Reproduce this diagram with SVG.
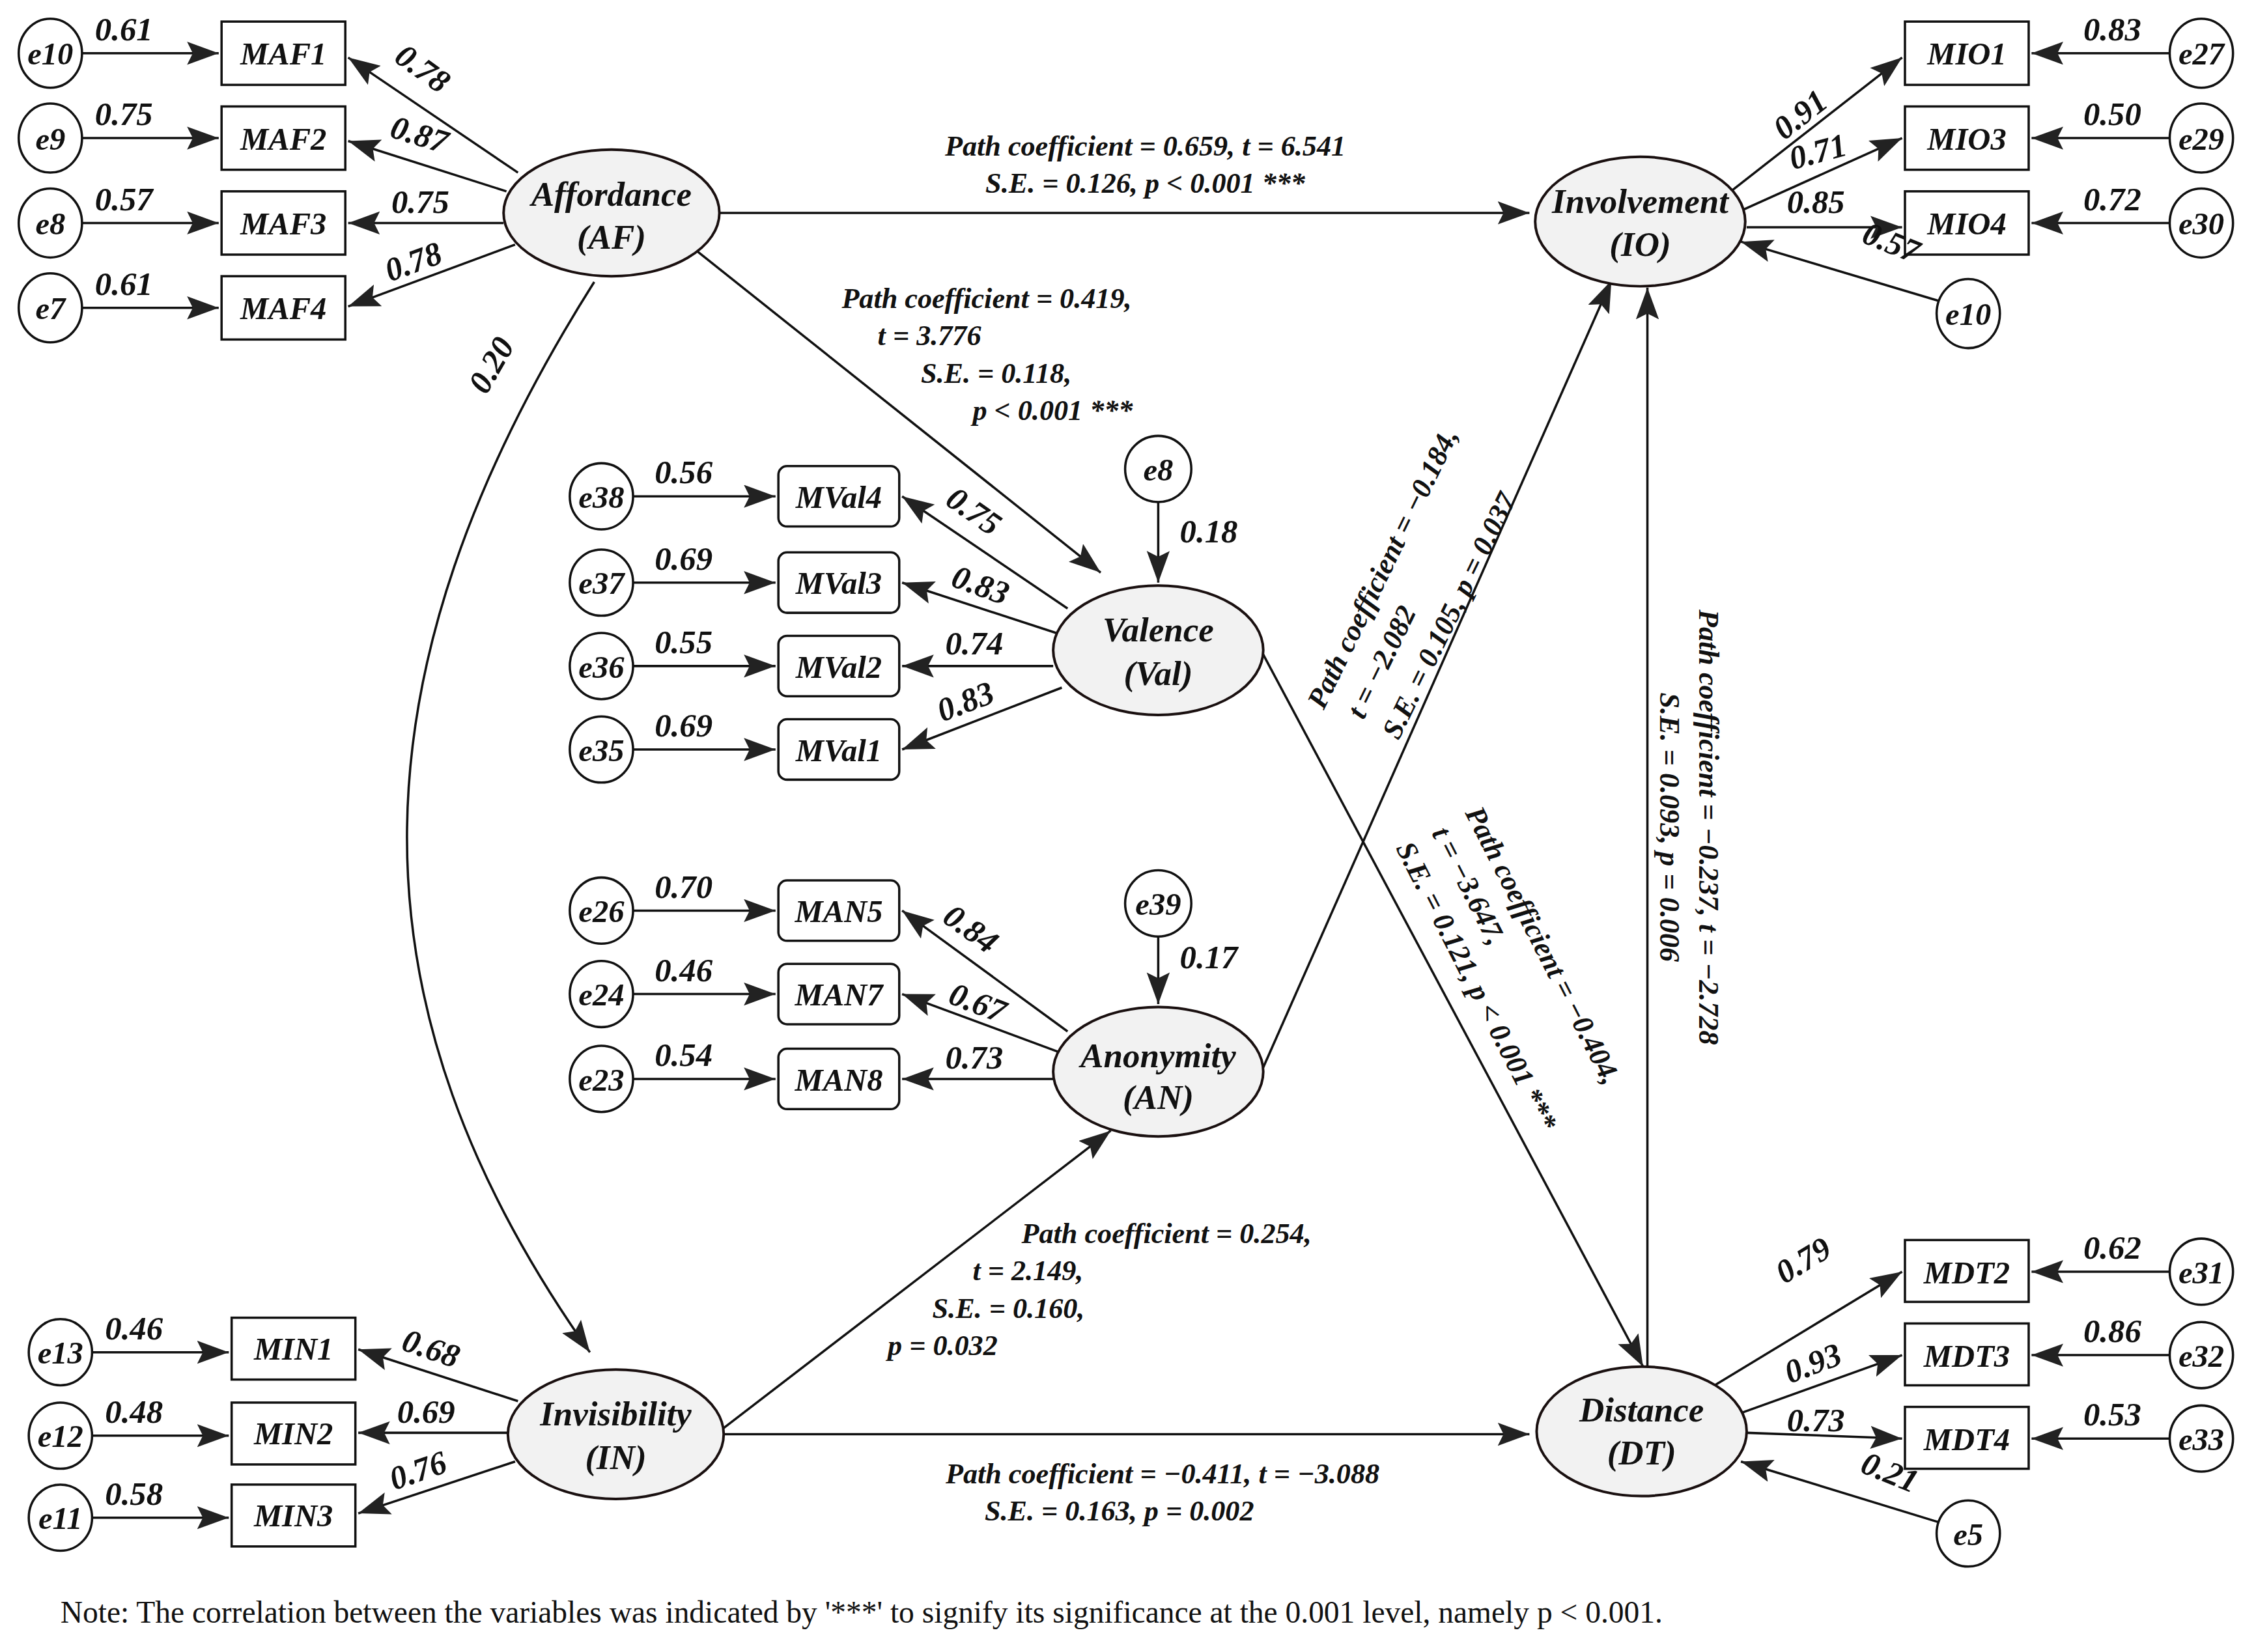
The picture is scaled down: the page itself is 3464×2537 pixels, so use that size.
<svg xmlns="http://www.w3.org/2000/svg" width="3464" height="2537" viewBox="0 0 3464 2537">
<defs>
<marker id="ar" markerUnits="userSpaceOnUse" markerWidth="24" markerHeight="18" refX="22" refY="8" orient="auto"><path d="M0,0 L22,8 L0,16 L4,8 z" fill="#222"/></marker>
<style>
.t{font-family:"Liberation Serif","Times New Roman",serif;font-weight:bold;font-style:italic;fill:#111}
.v{font-size:23px}
.n{font-size:22px;text-anchor:middle}
.L{font-size:24px;text-anchor:middle}
.p{font-size:20px}
.pm{font-size:20px;text-anchor:middle}
.e{fill:#fff;stroke:#111;stroke-width:1.6}
.lat{fill:#f2f2f2;stroke:#1a1010;stroke-width:1.8}
.bx{fill:#fff;stroke:#111;stroke-width:1.6}
.c line,.c path{stroke:#111;stroke-width:1.6;fill:none;marker-end:url(#ar)}
.note{font-family:"Liberation Serif","Times New Roman",serif;font-size:21.5px;fill:#111}
</style>
</defs>
<rect width="3464" height="2537" fill="#fff"/>
<g transform="scale(2.2092)">
<g class="c" id="connectors">
<line x1="57" y1="37" x2="152" y2="37"/><line x1="57" y1="96" x2="152" y2="96"/><line x1="57" y1="155" x2="152" y2="155"/><line x1="57" y1="214" x2="152" y2="214"/>
<line x1="360" y1="120" x2="242" y2="40"/><line x1="352" y1="133" x2="242" y2="98"/><line x1="350" y1="155" x2="242" y2="155"/><line x1="358" y1="170" x2="242" y2="213"/>
<line x1="1508" y1="37" x2="1412" y2="37"/><line x1="1508" y1="96" x2="1412" y2="96"/><line x1="1508" y1="155" x2="1412" y2="155"/>
<line x1="1203" y1="133" x2="1322" y2="40"/><line x1="1211" y1="146" x2="1322" y2="96"/><line x1="1214" y1="158" x2="1322" y2="158"/>
<line x1="1347" y1="209" x2="1210" y2="168"/>
<line x1="440" y1="345" x2="539" y2="345"/><line x1="440" y1="405" x2="539" y2="405"/><line x1="440" y1="463" x2="539" y2="463"/><line x1="440" y1="521" x2="539" y2="521"/>
<line x1="742" y1="423" x2="627" y2="345"/><line x1="734" y1="440" x2="627" y2="405"/><line x1="732" y1="463" x2="627" y2="463"/><line x1="738" y1="478" x2="627" y2="521"/>
<line x1="805" y1="349" x2="805" y2="405"/>
<line x1="440" y1="633" x2="539" y2="633"/><line x1="440" y1="691" x2="539" y2="691"/><line x1="440" y1="750" x2="539" y2="750"/>
<line x1="742" y1="717" x2="627" y2="633"/><line x1="735" y1="731" x2="627" y2="691"/><line x1="732" y1="750" x2="627" y2="750"/>
<line x1="805" y1="651" x2="805" y2="698"/>
<line x1="64" y1="940" x2="159" y2="940"/><line x1="64" y1="998" x2="159" y2="998"/><line x1="64" y1="1055" x2="159" y2="1055"/>
<line x1="360" y1="974" x2="249" y2="938"/><line x1="354" y1="996" x2="249" y2="996"/><line x1="358" y1="1016" x2="249" y2="1052"/>
<line x1="1508" y1="884" x2="1412" y2="884"/><line x1="1508" y1="942" x2="1412" y2="942"/><line x1="1508" y1="1000" x2="1412" y2="1000"/>
<line x1="1190" y1="964" x2="1322" y2="884"/><line x1="1208" y1="983" x2="1322" y2="942"/><line x1="1214" y1="996" x2="1322" y2="1000"/>
<line x1="1347" y1="1058" x2="1210" y2="1016"/>
<line x1="500" y1="148" x2="1063" y2="148"/>
<line x1="485" y1="175" x2="765" y2="398"/>
<path d="M413,196 C240,470 240,700 410,940"/>
<line x1="500" y1="995" x2="772" y2="786"/>
<line x1="503" y1="997" x2="1063" y2="997"/>
<line x1="878" y1="455" x2="1142" y2="950"/>
<line x1="878" y1="742" x2="1120" y2="195"/>
<line x1="1145" y1="950" x2="1145" y2="200"/>
</g>

<g id="e10a"><ellipse class="e" cx="35" cy="37" rx="22" ry="24"/><text class="t n" x="35" y="45">e10</text></g>
<g id="e9"><ellipse class="e" cx="35" cy="96" rx="22" ry="24"/><text class="t n" x="35" y="104">e9</text></g>
<g id="e8a"><ellipse class="e" cx="35" cy="155" rx="22" ry="24"/><text class="t n" x="35" y="163">e8</text></g>
<g id="e7"><ellipse class="e" cx="35" cy="214" rx="22" ry="24"/><text class="t n" x="35" y="222">e7</text></g>
<g id="MAF1"><rect class="bx" x="154" y="15" width="86" height="44"/><text class="t n" x="197" y="45">MAF1</text></g>
<g id="MAF2"><rect class="bx" x="154" y="74" width="86" height="44"/><text class="t n" x="197" y="104">MAF2</text></g>
<g id="MAF3"><rect class="bx" x="154" y="133" width="86" height="44"/><text class="t n" x="197" y="163">MAF3</text></g>
<g id="MAF4"><rect class="bx" x="154" y="192" width="86" height="44"/><text class="t n" x="197" y="222">MAF4</text></g>
<g id="AF"><ellipse class="lat" cx="425" cy="148" rx="75" ry="44"/><text class="t L" x="425" y="143">Affordance</text><text class="t L" x="425" y="173">(AF)</text></g>

<g id="e27"><ellipse class="e" cx="1530" cy="37" rx="22" ry="24"/><text class="t n" x="1530" y="45">e27</text></g>
<g id="e29"><ellipse class="e" cx="1530" cy="96" rx="22" ry="24"/><text class="t n" x="1530" y="104">e29</text></g>
<g id="e30"><ellipse class="e" cx="1530" cy="155" rx="22" ry="24"/><text class="t n" x="1530" y="163">e30</text></g>
<g id="e10b"><ellipse class="e" cx="1368" cy="218" rx="22" ry="24"/><text class="t n" x="1368" y="226">e10</text></g>
<g id="MIO1"><rect class="bx" x="1324" y="15" width="86" height="44"/><text class="t n" x="1367" y="45">MIO1</text></g>
<g id="MIO3"><rect class="bx" x="1324" y="74" width="86" height="44"/><text class="t n" x="1367" y="104">MIO3</text></g>
<g id="MIO4"><rect class="bx" x="1324" y="133" width="86" height="44"/><text class="t n" x="1367" y="163">MIO4</text></g>
<g id="IO"><ellipse class="lat" cx="1140" cy="154" rx="73" ry="45"/><text class="t L" x="1140" y="148">Involvement</text><text class="t L" x="1140" y="178">(IO)</text></g>

<g id="e38"><ellipse class="e" cx="418" cy="345" rx="22" ry="23"/><text class="t n" x="418" y="353">e38</text></g>
<g id="e37"><ellipse class="e" cx="418" cy="405" rx="22" ry="23"/><text class="t n" x="418" y="413">e37</text></g>
<g id="e36"><ellipse class="e" cx="418" cy="463" rx="22" ry="23"/><text class="t n" x="418" y="471">e36</text></g>
<g id="e35"><ellipse class="e" cx="418" cy="521" rx="22" ry="23"/><text class="t n" x="418" y="529">e35</text></g>
<g id="MVal4"><rect class="bx" x="541" y="324" width="84" height="42" rx="6"/><text class="t n" x="583" y="353">MVal4</text></g>
<g id="MVal3"><rect class="bx" x="541" y="384" width="84" height="42" rx="6"/><text class="t n" x="583" y="413">MVal3</text></g>
<g id="MVal2"><rect class="bx" x="541" y="442" width="84" height="42" rx="6"/><text class="t n" x="583" y="471">MVal2</text></g>
<g id="MVal1"><rect class="bx" x="541" y="500" width="84" height="42" rx="6"/><text class="t n" x="583" y="529">MVal1</text></g>
<g id="e8b"><ellipse class="e" cx="805" cy="326" rx="23" ry="23"/><text class="t n" x="805" y="334">e8</text></g>
<g id="Val"><ellipse class="lat" cx="805" cy="452" rx="73" ry="45"/><text class="t L" x="805" y="446">Valence</text><text class="t L" x="805" y="476">(Val)</text></g>

<g id="e26"><ellipse class="e" cx="418" cy="633" rx="22" ry="23"/><text class="t n" x="418" y="641">e26</text></g>
<g id="e24"><ellipse class="e" cx="418" cy="691" rx="22" ry="23"/><text class="t n" x="418" y="699">e24</text></g>
<g id="e23"><ellipse class="e" cx="418" cy="750" rx="22" ry="23"/><text class="t n" x="418" y="758">e23</text></g>
<g id="MAN5"><rect class="bx" x="541" y="612" width="84" height="42" rx="6"/><text class="t n" x="583" y="641">MAN5</text></g>
<g id="MAN7"><rect class="bx" x="541" y="670" width="84" height="42" rx="6"/><text class="t n" x="583" y="699">MAN7</text></g>
<g id="MAN8"><rect class="bx" x="541" y="729" width="84" height="42" rx="6"/><text class="t n" x="583" y="758">MAN8</text></g>
<g id="e39"><ellipse class="e" cx="805" cy="628" rx="23" ry="23"/><text class="t n" x="805" y="636">e39</text></g>
<g id="AN"><ellipse class="lat" cx="805" cy="745" rx="73" ry="45"/><text class="t L" x="805" y="742">Anonymity</text><text class="t L" x="805" y="771">(AN)</text></g>

<g id="e13"><ellipse class="e" cx="42" cy="940" rx="22" ry="23"/><text class="t n" x="42" y="948">e13</text></g>
<g id="e12"><ellipse class="e" cx="42" cy="998" rx="22" ry="23"/><text class="t n" x="42" y="1006">e12</text></g>
<g id="e11"><ellipse class="e" cx="42" cy="1055" rx="22" ry="23"/><text class="t n" x="42" y="1063">e11</text></g>
<g id="MIN1"><rect class="bx" x="161" y="916" width="86" height="43"/><text class="t n" x="204" y="945">MIN1</text></g>
<g id="MIN2"><rect class="bx" x="161" y="975" width="86" height="43"/><text class="t n" x="204" y="1004">MIN2</text></g>
<g id="MIN3"><rect class="bx" x="161" y="1032" width="86" height="43"/><text class="t n" x="204" y="1061">MIN3</text></g>
<g id="IN"><ellipse class="lat" cx="428" cy="997" rx="75" ry="45"/><text class="t L" x="428" y="991">Invisibility</text><text class="t L" x="428" y="1021">(IN)</text></g>

<g id="e31"><ellipse class="e" cx="1530" cy="884" rx="22" ry="23"/><text class="t n" x="1530" y="892">e31</text></g>
<g id="e32"><ellipse class="e" cx="1530" cy="942" rx="22" ry="23"/><text class="t n" x="1530" y="950">e32</text></g>
<g id="e33"><ellipse class="e" cx="1530" cy="1000" rx="22" ry="23"/><text class="t n" x="1530" y="1008">e33</text></g>
<g id="e5"><ellipse class="e" cx="1368" cy="1066" rx="22" ry="23"/><text class="t n" x="1368" y="1074">e5</text></g>
<g id="MDT2"><rect class="bx" x="1324" y="862" width="86" height="43"/><text class="t n" x="1367" y="892">MDT2</text></g>
<g id="MDT3"><rect class="bx" x="1324" y="920" width="86" height="43"/><text class="t n" x="1367" y="950">MDT3</text></g>
<g id="MDT4"><rect class="bx" x="1324" y="978" width="86" height="43"/><text class="t n" x="1367" y="1008">MDT4</text></g>
<g id="DT"><ellipse class="lat" cx="1141" cy="995" rx="73" ry="45"/><text class="t L" x="1141" y="988">Distance</text><text class="t L" x="1141" y="1018">(DT)</text></g>

<g id="labels">
<text class="t v" x="66" y="28">0.61</text><text class="t v" x="66" y="87">0.75</text><text class="t v" x="66" y="146">0.57</text><text class="t v" x="66" y="205">0.61</text>
<text class="t v" transform="translate(273,42) rotate(36)">0.78</text>
<text class="t v" transform="translate(270,95) rotate(17)">0.87</text>
<text class="t v" x="272" y="148">0.75</text>
<text class="t v" transform="translate(271,196) rotate(-20)">0.78</text>
<text class="t v" transform="translate(338,275) rotate(-60)">0.20</text>

<text class="t v" x="1448" y="28">0.83</text><text class="t v" x="1448" y="87">0.50</text><text class="t v" x="1448" y="146">0.72</text>
<text class="t v" transform="translate(1240,98) rotate(-38)">0.91</text>
<text class="t v" transform="translate(1246,118) rotate(-15)">0.71</text>
<text class="t v" x="1242" y="148">0.85</text>
<text class="t v" transform="translate(1293,168) rotate(22)">0.57</text>

<text class="t v" x="455" y="336">0.56</text><text class="t v" x="455" y="396">0.69</text><text class="t v" x="455" y="454">0.55</text><text class="t v" x="455" y="512">0.69</text>
<text class="t v" transform="translate(656,350) rotate(35)">0.75</text>
<text class="t v" transform="translate(660,407) rotate(20)">0.83</text>
<text class="t v" x="657" y="455">0.74</text>
<text class="t v" transform="translate(655,502) rotate(-21)">0.83</text>
<text class="t v" x="820" y="377">0.18</text>

<text class="t v" x="455" y="624">0.70</text><text class="t v" x="455" y="682">0.46</text><text class="t v" x="455" y="741">0.54</text>
<text class="t v" transform="translate(654,640) rotate(36)">0.84</text>
<text class="t v" transform="translate(658,697) rotate(21)">0.67</text>
<text class="t v" x="657" y="743">0.73</text>
<text class="t v" x="820" y="673">0.17</text>

<text class="t v" x="73" y="931">0.46</text><text class="t v" x="73" y="989">0.48</text><text class="t v" x="73" y="1046">0.58</text>
<text class="t v" transform="translate(278,938) rotate(19)">0.68</text>
<text class="t v" x="276" y="989">0.69</text>
<text class="t v" transform="translate(274,1036) rotate(-19)">0.76</text>

<text class="t v" x="1448" y="875">0.62</text><text class="t v" x="1448" y="933">0.86</text><text class="t v" x="1448" y="991">0.53</text>
<text class="t v" transform="translate(1240,893) rotate(-31)">0.79</text>
<text class="t v" transform="translate(1244,962) rotate(-21)">0.93</text>
<text class="t v" x="1242" y="995">0.73</text>
<text class="t v" transform="translate(1292,1023) rotate(22)">0.21</text>

<text class="t pm" x="796" y="108">Path coefficient = 0.659, t = 6.541</text>
<text class="t pm" x="796" y="134">S.E. = 0.126, p &lt; 0.001 ***</text>

<text class="t p" x="585" y="214">Path coefficient = 0.419,</text>
<text class="t p" x="610" y="240">t = 3.776</text>
<text class="t p" x="640" y="266">S.E. = 0.118,</text>
<text class="t p" x="676" y="292">p &lt; 0.001 ***</text>

<text class="t p" x="710" y="864">Path coefficient = 0.254,</text>
<text class="t p" x="676" y="890">t = 2.149,</text>
<text class="t p" x="648" y="916">S.E. = 0.160,</text>
<text class="t p" x="617" y="942">p = 0.032</text>

<text class="t pm" x="808" y="1031">Path coefficient = −0.411, t = −3.088</text>
<text class="t pm" x="778" y="1057">S.E. = 0.163, p = 0.002</text>

<g transform="translate(920,494) rotate(-64)">
<text class="t p" x="0" y="0">Path coefficient = −0.184,</text>
<text class="t p" x="6" y="28">t = −2.082</text>
<text class="t p" x="4" y="56">S.E. = 0.105, p = 0.037</text>
</g>
<g transform="translate(1018,565) rotate(63)">
<text class="t p" x="0" y="0">Path coefficient = −0.404,</text>
<text class="t p" x="2" y="27">t = −3.647,</text>
<text class="t p" x="0" y="54">S.E. = 0.121, p &lt; 0.001 ***</text>
</g>
<text class="t pm" transform="translate(1181,575) rotate(90)">Path coefficient = −0.237, t = −2.728</text>
<text class="t pm" transform="translate(1154,575) rotate(90)">S.E. = 0.093, p = 0.006</text>

<text class="note" x="42" y="1128">Note: The correlation between the variables was indicated by '***' to signify its significance at the 0.001 level, namely p &lt; 0.001.</text>
</g>
</g>
</svg>
